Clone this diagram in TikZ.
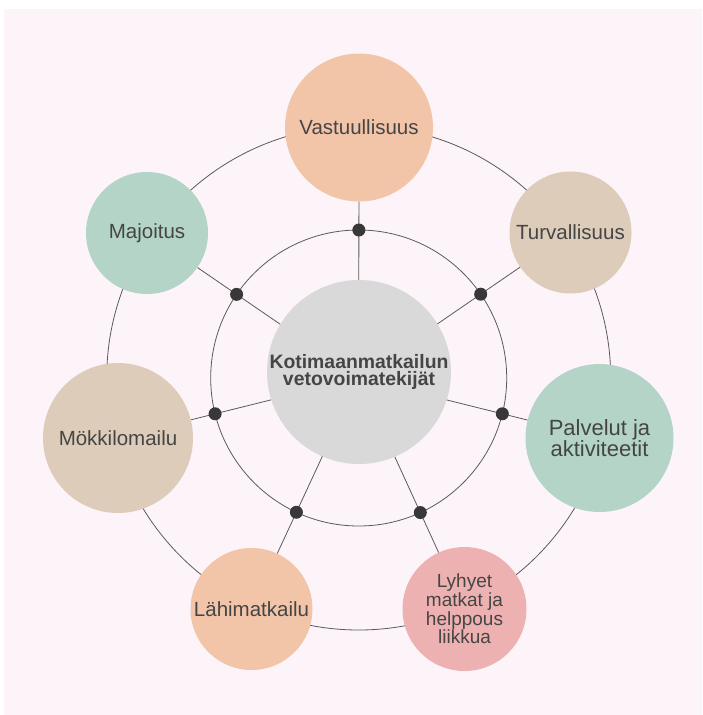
\documentclass[tikz,border=0pt]{standalone}
\usepackage{fontspec}
\setmainfont{Liberation Sans}
\usetikzlibrary{calc}
\definecolor{bgpink}{HTML}{FDF4F9}
\definecolor{peach}{HTML}{F2C5A8}
\definecolor{beige}{HTML}{DDCCB9}
\definecolor{mint}{HTML}{B3D4C6}
\definecolor{rose}{HTML}{EDB1B1}
\definecolor{hubgrey}{HTML}{D9D9D9}
\definecolor{txtgrey}{HTML}{454545}
\definecolor{linegrey}{HTML}{5A5A5A}
\definecolor{dotgrey}{HTML}{383838}
\tikzset{
    factor/.style = {circle,
                    draw=none,
                    text=txtgrey,
                    inner sep=0pt,
                    align=center,
                    font=\fontsize{20.5}{22}\selectfont},
    hub/.style =    {circle,
                    fill=hubgrey,
                    draw=none,
                    text=txtgrey,
                    inner sep=0pt,
                    align=center,
                    minimum size=184pt,
                    font=\bfseries\fontsize{19.4}{17.5}\selectfont},
    dot/.style =    {circle,
                    fill=dotgrey,
                    draw=none,
                    inner sep=0pt,
                    minimum size=13pt},
    ring/.style =   {draw=linegrey,
                    line width=0.8pt},
    spoke/.style =  {draw=linegrey,
                    line width=0.8pt}
}
\begin{document}
\begin{tikzpicture}[x=1pt,y=-1pt]
    \fill[white] (0,0) rectangle (702,715);
    \fill[bgpink] (4,9) rectangle (702,715);
    \coordinate (o) at (358.7,378);
    % rings
    \draw[ring] (o) circle[radius=252pt];
    \draw[ring] (o) circle[radius=148pt];
    % outer factors
    \node[factor, fill=peach, minimum size=148pt] (vast) at (359,127.5) {Vastuullisuus};
    \node[factor, fill=beige, minimum size=122pt] (turv) at (570.5,232.5) {Turvallisuus};
    \node[factor, fill=mint, minimum size=148pt,
          font=\fontsize{22}{20}\selectfont] (palv) at (599.5,438) {Palvelut ja\\aktiviteetit};
    \node[factor, fill=rose, minimum size=124pt,
          font=\fontsize{19}{17}\selectfont] (lyhy) at (464.5,609) {Lyhyet\\matkat ja\\helppous\\liikkua};
    \node[factor, fill=peach, minimum size=122pt] (lahi) at (251.5,609) {Lähimatkailu};
    \node[factor, fill=beige, minimum size=150pt] (mokk) at (118,438) {Mökkilomailu};
    \node[factor, fill=mint, minimum size=122pt] (majo) at (147,233) {Majoitus};
    % spokes
    \foreach \n in {vast,turv,palv,lyhy,lahi,mokk,majo}
        \draw[spoke] (o) -- (\n);
    \node[hub] (hub) at (359,372) {Kotimaanmatkailun\\vetovoimatekijät};
    % dots on inner ring
    \foreach \n in {vast,turv,palv,lyhy,lahi,mokk,majo}
        \node[dot] (dot-\n) at ($(o)!148pt!(\n)$) {};
\end{tikzpicture}
\end{document}
